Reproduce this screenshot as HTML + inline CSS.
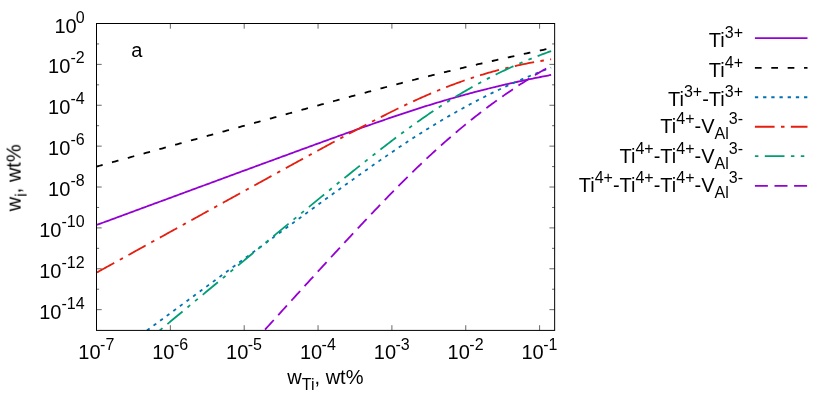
<!DOCTYPE html>
<html><head><meta charset="utf-8"><title>plot</title>
<style>
html,body{margin:0;padding:0;background:#fff;}
body{width:830px;height:413px;overflow:hidden;}
svg{display:block;}
text{-webkit-font-smoothing:antialiased;}
text{font-family:"Liberation Sans",sans-serif;fill:#000;}
</style></head><body>
<svg width="830" height="413" viewBox="0 0 830 413">
<rect x="0" y="0" width="830" height="413" fill="#ffffff"/>
<defs><clipPath id="cp"><rect x="96.50" y="23.50" width="458.15" height="306.90"/></clipPath></defs>

<path d="M96.50,43.94 h2.60 M554.65,43.94 h-2.60 M96.50,64.38 h5.20 M554.65,64.38 h-5.20 M96.50,84.82 h2.60 M554.65,84.82 h-2.60 M96.50,105.26 h5.20 M554.65,105.26 h-5.20 M96.50,125.70 h2.60 M554.65,125.70 h-2.60 M96.50,146.14 h5.20 M554.65,146.14 h-5.20 M96.50,166.58 h2.60 M554.65,166.58 h-2.60 M96.50,187.02 h5.20 M554.65,187.02 h-5.20 M96.50,207.46 h2.60 M554.65,207.46 h-2.60 M96.50,227.90 h5.20 M554.65,227.90 h-5.20 M96.50,248.34 h2.60 M554.65,248.34 h-2.60 M96.50,268.78 h5.20 M554.65,268.78 h-5.20 M96.50,289.22 h2.60 M554.65,289.22 h-2.60 M96.50,309.66 h5.20 M554.65,309.66 h-5.20 M96.50,330.40 v-5.20 M96.50,23.50 v5.20 M170.35,330.40 v-5.20 M170.35,23.50 v5.20 M244.20,330.40 v-5.20 M244.20,23.50 v5.20 M318.05,330.40 v-5.20 M318.05,23.50 v5.20 M391.90,330.40 v-5.20 M391.90,23.50 v5.20 M465.75,330.40 v-5.20 M465.75,23.50 v5.20 M539.60,330.40 v-5.20 M539.60,23.50 v5.20" stroke="#000" stroke-width="0.6" fill="none"/>
<g clip-path="url(#cp)" fill="none" stroke-width="1.8">
<path d="M96.50,225.02 L98.02,224.46 L99.54,223.90 L101.06,223.34 L102.58,222.78 L104.10,222.22 L105.62,221.66 L107.14,221.10 L108.66,220.54 L110.18,219.97 L111.70,219.41 L113.23,218.85 L114.75,218.29 L116.27,217.73 L117.79,217.17 L119.31,216.61 L120.83,216.05 L122.35,215.49 L123.87,214.93 L125.39,214.37 L126.91,213.81 L128.43,213.25 L129.95,212.68 L131.47,212.12 L132.99,211.56 L134.51,211.00 L136.03,210.44 L137.55,209.88 L139.07,209.32 L140.59,208.76 L142.11,208.20 L143.63,207.64 L145.16,207.08 L146.68,206.52 L148.20,205.96 L149.72,205.40 L151.24,204.84 L152.76,204.27 L154.28,203.71 L155.80,203.15 L157.32,202.59 L158.84,202.03 L160.36,201.47 L161.88,200.91 L163.40,200.35 L164.92,199.79 L166.44,199.23 L167.96,198.67 L169.48,198.11 L171.00,197.55 L172.52,196.99 L174.04,196.43 L175.56,195.87 L177.08,195.31 L178.61,194.75 L180.13,194.19 L181.65,193.62 L183.17,193.06 L184.69,192.50 L186.21,191.94 L187.73,191.38 L189.25,190.82 L190.77,190.26 L192.29,189.70 L193.81,189.14 L195.33,188.58 L196.85,188.02 L198.37,187.46 L199.89,186.90 L201.41,186.34 L202.93,185.78 L204.45,185.22 L205.97,184.66 L207.49,184.10 L209.01,183.54 L210.54,182.98 L212.06,182.42 L213.58,181.86 L215.10,181.30 L216.62,180.74 L218.14,180.18 L219.66,179.62 L221.18,179.06 L222.70,178.50 L224.22,177.94 L225.74,177.38 L227.26,176.82 L228.78,176.26 L230.30,175.70 L231.82,175.14 L233.34,174.58 L234.86,174.02 L236.38,173.46 L237.90,172.90 L239.42,172.34 L240.94,171.78 L242.47,171.22 L243.99,170.66 L245.51,170.11 L247.03,169.55 L248.55,168.99 L250.07,168.43 L251.59,167.87 L253.11,167.31 L254.63,166.75 L256.15,166.19 L257.67,165.63 L259.19,165.07 L260.71,164.51 L262.23,163.96 L263.75,163.40 L265.27,162.84 L266.79,162.28 L268.31,161.72 L269.83,161.16 L271.35,160.60 L272.87,160.05 L274.40,159.49 L275.92,158.93 L277.44,158.37 L278.96,157.81 L280.48,157.26 L282.00,156.70 L283.52,156.14 L285.04,155.58 L286.56,155.03 L288.08,154.47 L289.60,153.91 L291.12,153.35 L292.64,152.80 L294.16,152.24 L295.68,151.68 L297.20,151.13 L298.72,150.57 L300.24,150.02 L301.76,149.46 L303.28,148.90 L304.80,148.35 L306.32,147.79 L307.85,147.24 L309.37,146.68 L310.89,146.13 L312.41,145.57 L313.93,145.02 L315.45,144.47 L316.97,143.91 L318.49,143.36 L320.01,142.80 L321.53,142.25 L323.05,141.70 L324.57,141.15 L326.09,140.59 L327.61,140.04 L329.13,139.49 L330.65,138.94 L332.17,138.39 L333.69,137.84 L335.21,137.29 L336.73,136.74 L338.25,136.19 L339.78,135.64 L341.30,135.09 L342.82,134.55 L344.34,134.00 L345.86,133.45 L347.38,132.91 L348.90,132.36 L350.42,131.82 L351.94,131.27 L353.46,130.73 L354.98,130.19 L356.50,129.64 L358.02,129.10 L359.54,128.56 L361.06,128.02 L362.58,127.48 L364.10,126.94 L365.62,126.40 L367.14,125.87 L368.66,125.33 L370.18,124.80 L371.71,124.26 L373.23,123.73 L374.75,123.20 L376.27,122.67 L377.79,122.14 L379.31,121.61 L380.83,121.08 L382.35,120.56 L383.87,120.03 L385.39,119.51 L386.91,118.98 L388.43,118.46 L389.95,117.94 L391.47,117.43 L392.99,116.91 L394.51,116.39 L396.03,115.88 L397.55,115.37 L399.07,114.86 L400.59,114.35 L402.11,113.84 L403.63,113.34 L405.16,112.83 L406.68,112.33 L408.20,111.83 L409.72,111.33 L411.24,110.84 L412.76,110.34 L414.28,109.85 L415.80,109.36 L417.32,108.87 L418.84,108.38 L420.36,107.90 L421.88,107.42 L423.40,106.94 L424.92,106.46 L426.44,105.98 L427.96,105.51 L429.48,105.04 L431.00,104.57 L432.52,104.10 L434.04,103.64 L435.56,103.18 L437.09,102.72 L438.61,102.26 L440.13,101.80 L441.65,101.35 L443.17,100.90 L444.69,100.45 L446.21,100.01 L447.73,99.56 L449.25,99.12 L450.77,98.68 L452.29,98.25 L453.81,97.81 L455.33,97.38 L456.85,96.95 L458.37,96.52 L459.89,96.10 L461.41,95.68 L462.93,95.26 L464.45,94.84 L465.97,94.43 L467.49,94.02 L469.02,93.61 L470.54,93.20 L472.06,92.79 L473.58,92.39 L475.10,91.99 L476.62,91.59 L478.14,91.20 L479.66,90.81 L481.18,90.42 L482.70,90.03 L484.22,89.64 L485.74,89.26 L487.26,88.88 L488.78,88.50 L490.30,88.12 L491.82,87.75 L493.34,87.38 L494.86,87.01 L496.38,86.64 L497.90,86.28 L499.42,85.92 L500.95,85.56 L502.47,85.20 L503.99,84.84 L505.51,84.49 L507.03,84.14 L508.55,83.79 L510.07,83.45 L511.59,83.10 L513.11,82.76 L514.63,82.42 L516.15,82.09 L517.67,81.75 L519.19,81.42 L520.71,81.09 L522.23,80.76 L523.75,80.44 L525.27,80.12 L526.79,79.79 L528.31,79.48 L529.83,79.16 L531.35,78.85 L532.87,78.53 L534.40,78.22 L535.92,77.91 L537.44,77.61 L538.96,77.31 L540.48,77.00 L542.00,76.70 L543.52,76.41 L545.04,76.11 L546.56,75.82 L548.08,75.53 L549.60,75.24 L551.12,74.95" stroke="#9400d3"/>
<path d="M96.50,166.59 L98.02,166.17 L99.54,165.75 L101.06,165.33 L102.58,164.91 L104.10,164.49 L105.62,164.07 L107.14,163.65 L108.66,163.23 L110.18,162.81 L111.70,162.39 L113.23,161.97 L114.75,161.54 L116.27,161.12 L117.79,160.70 L119.31,160.28 L120.83,159.86 L122.35,159.44 L123.87,159.02 L125.39,158.60 L126.91,158.18 L128.43,157.76 L129.95,157.34 L131.47,156.92 L132.99,156.50 L134.51,156.08 L136.03,155.66 L137.55,155.24 L139.07,154.82 L140.59,154.40 L142.11,153.98 L143.63,153.55 L145.16,153.13 L146.68,152.71 L148.20,152.29 L149.72,151.87 L151.24,151.45 L152.76,151.03 L154.28,150.61 L155.80,150.19 L157.32,149.77 L158.84,149.35 L160.36,148.93 L161.88,148.51 L163.40,148.09 L164.92,147.67 L166.44,147.25 L167.96,146.83 L169.48,146.41 L171.00,145.99 L172.52,145.57 L174.04,145.15 L175.56,144.73 L177.08,144.30 L178.61,143.88 L180.13,143.46 L181.65,143.04 L183.17,142.62 L184.69,142.20 L186.21,141.78 L187.73,141.36 L189.25,140.94 L190.77,140.52 L192.29,140.10 L193.81,139.68 L195.33,139.26 L196.85,138.84 L198.37,138.42 L199.89,138.00 L201.41,137.58 L202.93,137.16 L204.45,136.74 L205.97,136.32 L207.49,135.90 L209.01,135.48 L210.54,135.06 L212.06,134.64 L213.58,134.22 L215.10,133.80 L216.62,133.38 L218.14,132.96 L219.66,132.54 L221.18,132.12 L222.70,131.70 L224.22,131.28 L225.74,130.86 L227.26,130.44 L228.78,130.02 L230.30,129.60 L231.82,129.18 L233.34,128.76 L234.86,128.34 L236.38,127.92 L237.90,127.50 L239.42,127.08 L240.94,126.66 L242.47,126.24 L243.99,125.82 L245.51,125.40 L247.03,124.98 L248.55,124.56 L250.07,124.14 L251.59,123.72 L253.11,123.30 L254.63,122.88 L256.15,122.47 L257.67,122.05 L259.19,121.63 L260.71,121.21 L262.23,120.79 L263.75,120.37 L265.27,119.95 L266.79,119.53 L268.31,119.11 L269.83,118.69 L271.35,118.27 L272.87,117.85 L274.40,117.43 L275.92,117.02 L277.44,116.60 L278.96,116.18 L280.48,115.76 L282.00,115.34 L283.52,114.92 L285.04,114.50 L286.56,114.08 L288.08,113.67 L289.60,113.25 L291.12,112.83 L292.64,112.41 L294.16,111.99 L295.68,111.58 L297.20,111.16 L298.72,110.74 L300.24,110.32 L301.76,109.90 L303.28,109.49 L304.80,109.07 L306.32,108.65 L307.85,108.23 L309.37,107.82 L310.89,107.40 L312.41,106.98 L313.93,106.57 L315.45,106.15 L316.97,105.73 L318.49,105.32 L320.01,104.90 L321.53,104.48 L323.05,104.07 L324.57,103.65 L326.09,103.24 L327.61,102.82 L329.13,102.40 L330.65,101.99 L332.17,101.57 L333.69,101.16 L335.21,100.75 L336.73,100.33 L338.25,99.92 L339.78,99.50 L341.30,99.09 L342.82,98.68 L344.34,98.26 L345.86,97.85 L347.38,97.44 L348.90,97.02 L350.42,96.61 L351.94,96.20 L353.46,95.79 L354.98,95.38 L356.50,94.97 L358.02,94.56 L359.54,94.15 L361.06,93.74 L362.58,93.33 L364.10,92.92 L365.62,92.51 L367.14,92.10 L368.66,91.70 L370.18,91.29 L371.71,90.88 L373.23,90.48 L374.75,90.07 L376.27,89.67 L377.79,89.26 L379.31,88.86 L380.83,88.45 L382.35,88.05 L383.87,87.65 L385.39,87.25 L386.91,86.85 L388.43,86.45 L389.95,86.05 L391.47,85.65 L392.99,85.25 L394.51,84.85 L396.03,84.45 L397.55,84.06 L399.07,83.66 L400.59,83.27 L402.11,82.87 L403.63,82.48 L405.16,82.09 L406.68,81.69 L408.20,81.30 L409.72,80.91 L411.24,80.52 L412.76,80.14 L414.28,79.75 L415.80,79.36 L417.32,78.98 L418.84,78.59 L420.36,78.21 L421.88,77.82 L423.40,77.44 L424.92,77.06 L426.44,76.68 L427.96,76.30 L429.48,75.92 L431.00,75.54 L432.52,75.16 L434.04,74.79 L435.56,74.41 L437.09,74.04 L438.61,73.66 L440.13,73.29 L441.65,72.92 L443.17,72.55 L444.69,72.18 L446.21,71.81 L447.73,71.44 L449.25,71.07 L450.77,70.71 L452.29,70.34 L453.81,69.97 L455.33,69.61 L456.85,69.25 L458.37,68.88 L459.89,68.52 L461.41,68.16 L462.93,67.80 L464.45,67.44 L465.97,67.08 L467.49,66.72 L469.02,66.37 L470.54,66.01 L472.06,65.65 L473.58,65.30 L475.10,64.94 L476.62,64.59 L478.14,64.24 L479.66,63.89 L481.18,63.53 L482.70,63.18 L484.22,62.83 L485.74,62.48 L487.26,62.14 L488.78,61.79 L490.30,61.44 L491.82,61.09 L493.34,60.75 L494.86,60.40 L496.38,60.06 L497.90,59.72 L499.42,59.37 L500.95,59.03 L502.47,58.69 L503.99,58.35 L505.51,58.01 L507.03,57.67 L508.55,57.33 L510.07,57.00 L511.59,56.66 L513.11,56.32 L514.63,55.99 L516.15,55.65 L517.67,55.32 L519.19,54.99 L520.71,54.65 L522.23,54.32 L523.75,53.99 L525.27,53.66 L526.79,53.33 L528.31,53.00 L529.83,52.68 L531.35,52.35 L532.87,52.02 L534.40,51.70 L535.92,51.37 L537.44,51.05 L538.96,50.73 L540.48,50.40 L542.00,50.08 L543.52,49.76 L545.04,49.44 L546.56,49.12 L548.08,48.80 L549.60,48.48 L551.12,48.16" stroke="#000000" stroke-dasharray="6.7 9.68" stroke-dashoffset="0.3"/>
<path d="M96.50,367.69 L98.02,366.57 L99.54,365.45 L101.06,364.33 L102.58,363.21 L104.10,362.09 L105.62,360.96 L107.14,359.84 L108.66,358.72 L110.18,357.60 L111.70,356.48 L113.23,355.36 L114.75,354.23 L116.27,353.11 L117.79,351.99 L119.31,350.87 L120.83,349.75 L122.35,348.63 L123.87,347.50 L125.39,346.38 L126.91,345.26 L128.43,344.14 L129.95,343.02 L131.47,341.90 L132.99,340.78 L134.51,339.65 L136.03,338.53 L137.55,337.41 L139.07,336.29 L140.59,335.17 L142.11,334.05 L143.63,332.93 L145.16,331.80 L146.68,330.68 L148.20,329.56 L149.72,328.44 L151.24,327.32 L152.76,326.20 L154.28,325.08 L155.80,323.96 L157.32,322.83 L158.84,321.71 L160.36,320.59 L161.88,319.47 L163.40,318.35 L164.92,317.23 L166.44,316.11 L167.96,314.99 L169.48,313.87 L171.00,312.74 L172.52,311.62 L174.04,310.50 L175.56,309.38 L177.08,308.26 L178.61,307.14 L180.13,306.02 L181.65,304.90 L183.17,303.78 L184.69,302.66 L186.21,301.54 L187.73,300.42 L189.25,299.29 L190.77,298.17 L192.29,297.05 L193.81,295.93 L195.33,294.81 L196.85,293.69 L198.37,292.57 L199.89,291.45 L201.41,290.33 L202.93,289.21 L204.45,288.09 L205.97,286.97 L207.49,285.85 L209.01,284.73 L210.54,283.61 L212.06,282.49 L213.58,281.37 L215.10,280.25 L216.62,279.13 L218.14,278.01 L219.66,276.89 L221.18,275.77 L222.70,274.65 L224.22,273.53 L225.74,272.41 L227.26,271.29 L228.78,270.17 L230.30,269.05 L231.82,267.93 L233.34,266.81 L234.86,265.69 L236.38,264.57 L237.90,263.45 L239.42,262.34 L240.94,261.22 L242.47,260.10 L243.99,258.98 L245.51,257.86 L247.03,256.74 L248.55,255.62 L250.07,254.50 L251.59,253.39 L253.11,252.27 L254.63,251.15 L256.15,250.03 L257.67,248.91 L259.19,247.80 L260.71,246.68 L262.23,245.56 L263.75,244.44 L265.27,243.33 L266.79,242.21 L268.31,241.09 L269.83,239.97 L271.35,238.86 L272.87,237.74 L274.40,236.63 L275.92,235.51 L277.44,234.39 L278.96,233.28 L280.48,232.16 L282.00,231.05 L283.52,229.93 L285.04,228.82 L286.56,227.70 L288.08,226.59 L289.60,225.47 L291.12,224.36 L292.64,223.24 L294.16,222.13 L295.68,221.02 L297.20,219.91 L298.72,218.79 L300.24,217.68 L301.76,216.57 L303.28,215.46 L304.80,214.35 L306.32,213.23 L307.85,212.12 L309.37,211.01 L310.89,209.90 L312.41,208.80 L313.93,207.69 L315.45,206.58 L316.97,205.47 L318.49,204.36 L320.01,203.26 L321.53,202.15 L323.05,201.05 L324.57,199.94 L326.09,198.84 L327.61,197.73 L329.13,196.63 L330.65,195.53 L332.17,194.43 L333.69,193.33 L335.21,192.23 L336.73,191.13 L338.25,190.03 L339.78,188.93 L341.30,187.84 L342.82,186.74 L344.34,185.65 L345.86,184.55 L347.38,183.46 L348.90,182.37 L350.42,181.28 L351.94,180.19 L353.46,179.11 L354.98,178.02 L356.50,176.93 L358.02,175.85 L359.54,174.77 L361.06,173.69 L362.58,172.61 L364.10,171.53 L365.62,170.46 L367.14,169.39 L368.66,168.31 L370.18,167.24 L371.71,166.18 L373.23,165.11 L374.75,164.05 L376.27,162.98 L377.79,161.93 L379.31,160.87 L380.83,159.81 L382.35,158.76 L383.87,157.71 L385.39,156.66 L386.91,155.62 L388.43,154.58 L389.95,153.54 L391.47,152.50 L392.99,151.47 L394.51,150.44 L396.03,149.41 L397.55,148.38 L399.07,147.36 L400.59,146.35 L402.11,145.33 L403.63,144.32 L405.16,143.31 L406.68,142.31 L408.20,141.31 L409.72,140.31 L411.24,139.32 L412.76,138.33 L414.28,137.35 L415.80,136.37 L417.32,135.39 L418.84,134.42 L420.36,133.45 L421.88,132.48 L423.40,131.52 L424.92,130.57 L426.44,129.61 L427.96,128.67 L429.48,127.72 L431.00,126.79 L432.52,125.85 L434.04,124.92 L435.56,124.00 L437.09,123.08 L438.61,122.16 L440.13,121.25 L441.65,120.35 L443.17,119.45 L444.69,118.55 L446.21,117.66 L447.73,116.77 L449.25,115.89 L450.77,115.01 L452.29,114.14 L453.81,113.27 L455.33,112.41 L456.85,111.55 L458.37,110.70 L459.89,109.85 L461.41,109.01 L462.93,108.17 L464.45,107.33 L465.97,106.51 L467.49,105.68 L469.02,104.86 L470.54,104.05 L472.06,103.24 L473.58,102.43 L475.10,101.63 L476.62,100.84 L478.14,100.05 L479.66,99.26 L481.18,98.48 L482.70,97.70 L484.22,96.93 L485.74,96.17 L487.26,95.40 L488.78,94.65 L490.30,93.90 L491.82,93.15 L493.34,92.40 L494.86,91.67 L496.38,90.93 L497.90,90.20 L499.42,89.48 L500.95,88.76 L502.47,88.05 L503.99,87.34 L505.51,86.63 L507.03,85.93 L508.55,85.24 L510.07,84.54 L511.59,83.86 L513.11,83.18 L514.63,82.50 L516.15,81.82 L517.67,81.16 L519.19,80.49 L520.71,79.83 L522.23,79.18 L523.75,78.53 L525.27,77.88 L526.79,77.24 L528.31,76.60 L529.83,75.97 L531.35,75.34 L532.87,74.71 L534.40,74.09 L535.92,73.48 L537.44,72.87 L538.96,72.26 L540.48,71.66 L542.00,71.06 L543.52,70.46 L545.04,69.87 L546.56,69.28 L548.08,68.70 L549.60,68.12 L551.12,67.55" stroke="#0072b2" stroke-dasharray="3.3 4.89" stroke-dashoffset="2.8"/>
<path d="M96.50,272.69 L98.02,271.85 L99.54,271.01 L101.06,270.16 L102.58,269.32 L104.10,268.48 L105.62,267.64 L107.14,266.80 L108.66,265.96 L110.18,265.12 L111.70,264.28 L113.23,263.43 L114.75,262.59 L116.27,261.75 L117.79,260.91 L119.31,260.07 L120.83,259.23 L122.35,258.39 L123.87,257.55 L125.39,256.71 L126.91,255.86 L128.43,255.02 L129.95,254.18 L131.47,253.34 L132.99,252.50 L134.51,251.66 L136.03,250.82 L137.55,249.98 L139.07,249.14 L140.59,248.29 L142.11,247.45 L143.63,246.61 L145.16,245.77 L146.68,244.93 L148.20,244.09 L149.72,243.25 L151.24,242.41 L152.76,241.57 L154.28,240.73 L155.80,239.89 L157.32,239.04 L158.84,238.20 L160.36,237.36 L161.88,236.52 L163.40,235.68 L164.92,234.84 L166.44,234.00 L167.96,233.16 L169.48,232.32 L171.00,231.48 L172.52,230.64 L174.04,229.80 L175.56,228.96 L177.08,228.11 L178.61,227.27 L180.13,226.43 L181.65,225.59 L183.17,224.75 L184.69,223.91 L186.21,223.07 L187.73,222.23 L189.25,221.39 L190.77,220.55 L192.29,219.71 L193.81,218.87 L195.33,218.03 L196.85,217.19 L198.37,216.35 L199.89,215.51 L201.41,214.67 L202.93,213.83 L204.45,212.99 L205.97,212.15 L207.49,211.31 L209.01,210.47 L210.54,209.63 L212.06,208.79 L213.58,207.95 L215.10,207.11 L216.62,206.27 L218.14,205.43 L219.66,204.59 L221.18,203.75 L222.70,202.91 L224.22,202.07 L225.74,201.23 L227.26,200.39 L228.78,199.55 L230.30,198.71 L231.82,197.87 L233.34,197.03 L234.86,196.19 L236.38,195.35 L237.90,194.51 L239.42,193.67 L240.94,192.84 L242.47,192.00 L243.99,191.16 L245.51,190.32 L247.03,189.48 L248.55,188.64 L250.07,187.80 L251.59,186.96 L253.11,186.13 L254.63,185.29 L256.15,184.45 L257.67,183.61 L259.19,182.77 L260.71,181.94 L262.23,181.10 L263.75,180.26 L265.27,179.42 L266.79,178.59 L268.31,177.75 L269.83,176.91 L271.35,176.07 L272.87,175.24 L274.40,174.40 L275.92,173.57 L277.44,172.73 L278.96,171.89 L280.48,171.06 L282.00,170.22 L283.52,169.39 L285.04,168.55 L286.56,167.72 L288.08,166.88 L289.60,166.05 L291.12,165.21 L292.64,164.38 L294.16,163.54 L295.68,162.71 L297.20,161.88 L298.72,161.04 L300.24,160.21 L301.76,159.38 L303.28,158.55 L304.80,157.71 L306.32,156.88 L307.85,156.05 L309.37,155.22 L310.89,154.39 L312.41,153.56 L313.93,152.73 L315.45,151.90 L316.97,151.08 L318.49,150.25 L320.01,149.42 L321.53,148.59 L323.05,147.77 L324.57,146.94 L326.09,146.12 L327.61,145.29 L329.13,144.47 L330.65,143.65 L332.17,142.82 L333.69,142.00 L335.21,141.18 L336.73,140.36 L338.25,139.54 L339.78,138.73 L341.30,137.91 L342.82,137.09 L344.34,136.28 L345.86,135.46 L347.38,134.65 L348.90,133.84 L350.42,133.03 L351.94,132.22 L353.46,131.41 L354.98,130.60 L356.50,129.80 L358.02,128.99 L359.54,128.19 L361.06,127.39 L362.58,126.59 L364.10,125.79 L365.62,125.00 L367.14,124.20 L368.66,123.41 L370.18,122.62 L371.71,121.83 L373.23,121.05 L374.75,120.26 L376.27,119.48 L377.79,118.70 L379.31,117.92 L380.83,117.15 L382.35,116.37 L383.87,115.60 L385.39,114.83 L386.91,114.07 L388.43,113.31 L389.95,112.55 L391.47,111.79 L392.99,111.04 L394.51,110.29 L396.03,109.54 L397.55,108.80 L399.07,108.06 L400.59,107.32 L402.11,106.59 L403.63,105.86 L405.16,105.13 L406.68,104.41 L408.20,103.69 L409.72,102.98 L411.24,102.27 L412.76,101.56 L414.28,100.86 L415.80,100.16 L417.32,99.47 L418.84,98.78 L420.36,98.09 L421.88,97.41 L423.40,96.74 L424.92,96.07 L426.44,95.40 L427.96,94.74 L429.48,94.08 L431.00,93.43 L432.52,92.78 L434.04,92.14 L435.56,91.51 L437.09,90.88 L438.61,90.25 L440.13,89.63 L441.65,89.02 L443.17,88.41 L444.69,87.80 L446.21,87.20 L447.73,86.61 L449.25,86.02 L450.77,85.44 L452.29,84.86 L453.81,84.29 L455.33,83.73 L456.85,83.17 L458.37,82.61 L459.89,82.06 L461.41,81.52 L462.93,80.98 L464.45,80.45 L465.97,79.93 L467.49,79.41 L469.02,78.89 L470.54,78.38 L472.06,77.88 L473.58,77.38 L475.10,76.89 L476.62,76.41 L478.14,75.93 L479.66,75.45 L481.18,74.98 L482.70,74.52 L484.22,74.06 L485.74,73.61 L487.26,73.17 L488.78,72.73 L490.30,72.29 L491.82,71.86 L493.34,71.44 L494.86,71.02 L496.38,70.61 L497.90,70.21 L499.42,69.81 L500.95,69.41 L502.47,69.02 L503.99,68.64 L505.51,68.26 L507.03,67.89 L508.55,67.52 L510.07,67.16 L511.59,66.80 L513.11,66.45 L514.63,66.10 L516.15,65.76 L517.67,65.43 L519.19,65.10 L520.71,64.77 L522.23,64.45 L523.75,64.14 L525.27,63.83 L526.79,63.53 L528.31,63.23 L529.83,62.93 L531.35,62.64 L532.87,62.36 L534.40,62.08 L535.92,61.81 L537.44,61.54 L538.96,61.27 L540.48,61.01 L542.00,60.76 L543.52,60.51 L545.04,60.26 L546.56,60.02 L548.08,59.78 L549.60,59.55 L551.12,59.32" stroke="#e51e10" stroke-dasharray="19.7 6.4 3.5 6.35" stroke-dashoffset="35.4"/>
<path d="M96.50,382.87 L98.02,381.61 L99.54,380.35 L101.06,379.09 L102.58,377.83 L104.10,376.56 L105.62,375.30 L107.14,374.04 L108.66,372.78 L110.18,371.52 L111.70,370.25 L113.23,368.99 L114.75,367.73 L116.27,366.47 L117.79,365.21 L119.31,363.95 L120.83,362.68 L122.35,361.42 L123.87,360.16 L125.39,358.90 L126.91,357.64 L128.43,356.38 L129.95,355.11 L131.47,353.85 L132.99,352.59 L134.51,351.33 L136.03,350.07 L137.55,348.81 L139.07,347.54 L140.59,346.28 L142.11,345.02 L143.63,343.76 L145.16,342.50 L146.68,341.24 L148.20,339.98 L149.72,338.71 L151.24,337.45 L152.76,336.19 L154.28,334.93 L155.80,333.67 L157.32,332.41 L158.84,331.15 L160.36,329.88 L161.88,328.62 L163.40,327.36 L164.92,326.10 L166.44,324.84 L167.96,323.58 L169.48,322.32 L171.00,321.06 L172.52,319.80 L174.04,318.53 L175.56,317.27 L177.08,316.01 L178.61,314.75 L180.13,313.49 L181.65,312.23 L183.17,310.97 L184.69,309.71 L186.21,308.45 L187.73,307.19 L189.25,305.93 L190.77,304.66 L192.29,303.40 L193.81,302.14 L195.33,300.88 L196.85,299.62 L198.37,298.36 L199.89,297.10 L201.41,295.84 L202.93,294.58 L204.45,293.32 L205.97,292.06 L207.49,290.80 L209.01,289.54 L210.54,288.28 L212.06,287.02 L213.58,285.76 L215.10,284.50 L216.62,283.24 L218.14,281.98 L219.66,280.72 L221.18,279.46 L222.70,278.20 L224.22,276.94 L225.74,275.68 L227.26,274.42 L228.78,273.16 L230.30,271.90 L231.82,270.64 L233.34,269.38 L234.86,268.12 L236.38,266.87 L237.90,265.61 L239.42,264.35 L240.94,263.09 L242.47,261.83 L243.99,260.57 L245.51,259.31 L247.03,258.06 L248.55,256.80 L250.07,255.54 L251.59,254.28 L253.11,253.02 L254.63,251.77 L256.15,250.51 L257.67,249.25 L259.19,247.99 L260.71,246.74 L262.23,245.48 L263.75,244.22 L265.27,242.97 L266.79,241.71 L268.31,240.45 L269.83,239.20 L271.35,237.94 L272.87,236.68 L274.40,235.43 L275.92,234.17 L277.44,232.92 L278.96,231.66 L280.48,230.41 L282.00,229.15 L283.52,227.90 L285.04,226.65 L286.56,225.39 L288.08,224.14 L289.60,222.89 L291.12,221.63 L292.64,220.38 L294.16,219.13 L295.68,217.88 L297.20,216.63 L298.72,215.38 L300.24,214.12 L301.76,212.87 L303.28,211.62 L304.80,210.38 L306.32,209.13 L307.85,207.88 L309.37,206.63 L310.89,205.38 L312.41,204.14 L313.93,202.89 L315.45,201.65 L316.97,200.40 L318.49,199.16 L320.01,197.91 L321.53,196.67 L323.05,195.43 L324.57,194.19 L326.09,192.95 L327.61,191.71 L329.13,190.47 L330.65,189.23 L332.17,187.99 L333.69,186.76 L335.21,185.52 L336.73,184.29 L338.25,183.05 L339.78,181.82 L341.30,180.59 L342.82,179.36 L344.34,178.13 L345.86,176.91 L347.38,175.68 L348.90,174.46 L350.42,173.23 L351.94,172.01 L353.46,170.79 L354.98,169.58 L356.50,168.36 L358.02,167.15 L359.54,165.93 L361.06,164.72 L362.58,163.51 L364.10,162.31 L365.62,161.10 L367.14,159.90 L368.66,158.70 L370.18,157.50 L371.71,156.31 L373.23,155.11 L374.75,153.92 L376.27,152.74 L377.79,151.55 L379.31,150.37 L380.83,149.19 L382.35,148.02 L383.87,146.84 L385.39,145.67 L386.91,144.51 L388.43,143.35 L389.95,142.19 L391.47,141.03 L392.99,139.88 L394.51,138.73 L396.03,137.59 L397.55,136.45 L399.07,135.31 L400.59,134.18 L402.11,133.05 L403.63,131.93 L405.16,130.81 L406.68,129.70 L408.20,128.59 L409.72,127.48 L411.24,126.38 L412.76,125.29 L414.28,124.20 L415.80,123.11 L417.32,122.03 L418.84,120.96 L420.36,119.89 L421.88,118.83 L423.40,117.77 L424.92,116.72 L426.44,115.67 L427.96,114.63 L429.48,113.59 L431.00,112.56 L432.52,111.54 L434.04,110.52 L435.56,109.51 L437.09,108.51 L438.61,107.51 L440.13,106.52 L441.65,105.53 L443.17,104.55 L444.69,103.57 L446.21,102.61 L447.73,101.64 L449.25,100.69 L450.77,99.74 L452.29,98.80 L453.81,97.86 L455.33,96.93 L456.85,96.01 L458.37,95.09 L459.89,94.18 L461.41,93.27 L462.93,92.38 L464.45,91.49 L465.97,90.60 L467.49,89.72 L469.02,88.85 L470.54,87.99 L472.06,87.13 L473.58,86.28 L475.10,85.43 L476.62,84.59 L478.14,83.76 L479.66,82.93 L481.18,82.11 L482.70,81.30 L484.22,80.49 L485.74,79.69 L487.26,78.90 L488.78,78.11 L490.30,77.33 L491.82,76.55 L493.34,75.78 L494.86,75.02 L496.38,74.27 L497.90,73.52 L499.42,72.77 L500.95,72.04 L502.47,71.31 L503.99,70.58 L505.51,69.86 L507.03,69.15 L508.55,68.45 L510.07,67.75 L511.59,67.05 L513.11,66.37 L514.63,65.68 L516.15,65.01 L517.67,64.34 L519.19,63.68 L520.71,63.02 L522.23,62.37 L523.75,61.72 L525.27,61.08 L526.79,60.45 L528.31,59.82 L529.83,59.20 L531.35,58.59 L532.87,57.98 L534.40,57.37 L535.92,56.77 L537.44,56.18 L538.96,55.59 L540.48,55.01 L542.00,54.43 L543.52,53.86 L545.04,53.29 L546.56,52.73 L548.08,52.18 L549.60,51.63 L551.12,51.08" stroke="#009e73" stroke-dasharray="19.7 6.4 3.5 6.4 3.5 6.4" stroke-dashoffset="45.6"/>
<path d="M96.50,515.91 L98.02,514.23 L99.54,512.54 L101.06,510.86 L102.58,509.18 L104.10,507.50 L105.62,505.81 L107.14,504.13 L108.66,502.45 L110.18,500.77 L111.70,499.08 L113.23,497.40 L114.75,495.72 L116.27,494.04 L117.79,492.35 L119.31,490.67 L120.83,488.99 L122.35,487.31 L123.87,485.62 L125.39,483.94 L126.91,482.26 L128.43,480.58 L129.95,478.90 L131.47,477.21 L132.99,475.53 L134.51,473.85 L136.03,472.17 L137.55,470.49 L139.07,468.80 L140.59,467.12 L142.11,465.44 L143.63,463.76 L145.16,462.08 L146.68,460.39 L148.20,458.71 L149.72,457.03 L151.24,455.35 L152.76,453.67 L154.28,451.98 L155.80,450.30 L157.32,448.62 L158.84,446.94 L160.36,445.26 L161.88,443.57 L163.40,441.89 L164.92,440.21 L166.44,438.53 L167.96,436.85 L169.48,435.17 L171.00,433.49 L172.52,431.80 L174.04,430.12 L175.56,428.44 L177.08,426.76 L178.61,425.08 L180.13,423.40 L181.65,421.72 L183.17,420.03 L184.69,418.35 L186.21,416.67 L187.73,414.99 L189.25,413.31 L190.77,411.63 L192.29,409.95 L193.81,408.27 L195.33,406.59 L196.85,404.91 L198.37,403.23 L199.89,401.54 L201.41,399.86 L202.93,398.18 L204.45,396.50 L205.97,394.82 L207.49,393.14 L209.01,391.46 L210.54,389.78 L212.06,388.10 L213.58,386.42 L215.10,384.74 L216.62,383.06 L218.14,381.38 L219.66,379.70 L221.18,378.02 L222.70,376.34 L224.22,374.66 L225.74,372.98 L227.26,371.30 L228.78,369.62 L230.30,367.94 L231.82,366.27 L233.34,364.59 L234.86,362.91 L236.38,361.23 L237.90,359.55 L239.42,357.87 L240.94,356.19 L242.47,354.51 L243.99,352.84 L245.51,351.16 L247.03,349.48 L248.55,347.80 L250.07,346.12 L251.59,344.45 L253.11,342.77 L254.63,341.09 L256.15,339.42 L257.67,337.74 L259.19,336.06 L260.71,334.39 L262.23,332.71 L263.75,331.03 L265.27,329.36 L266.79,327.68 L268.31,326.01 L269.83,324.33 L271.35,322.66 L272.87,320.98 L274.40,319.31 L275.92,317.63 L277.44,315.96 L278.96,314.28 L280.48,312.61 L282.00,310.94 L283.52,309.26 L285.04,307.59 L286.56,305.92 L288.08,304.25 L289.60,302.58 L291.12,300.91 L292.64,299.23 L294.16,297.56 L295.68,295.89 L297.20,294.23 L298.72,292.56 L300.24,290.89 L301.76,289.22 L303.28,287.55 L304.80,285.89 L306.32,284.22 L307.85,282.55 L309.37,280.89 L310.89,279.23 L312.41,277.56 L313.93,275.90 L315.45,274.24 L316.97,272.58 L318.49,270.91 L320.01,269.25 L321.53,267.60 L323.05,265.94 L324.57,264.28 L326.09,262.62 L327.61,260.97 L329.13,259.31 L330.65,257.66 L332.17,256.01 L333.69,254.36 L335.21,252.71 L336.73,251.06 L338.25,249.41 L339.78,247.77 L341.30,246.12 L342.82,244.48 L344.34,242.84 L345.86,241.20 L347.38,239.56 L348.90,237.92 L350.42,236.29 L351.94,234.66 L353.46,233.03 L354.98,231.40 L356.50,229.77 L358.02,228.15 L359.54,226.52 L361.06,224.90 L362.58,223.28 L364.10,221.67 L365.62,220.06 L367.14,218.45 L368.66,216.84 L370.18,215.23 L371.71,213.63 L373.23,212.03 L374.75,210.44 L376.27,208.84 L377.79,207.26 L379.31,205.67 L380.83,204.09 L382.35,202.51 L383.87,200.93 L385.39,199.36 L386.91,197.80 L388.43,196.23 L389.95,194.67 L391.47,193.12 L392.99,191.57 L394.51,190.02 L396.03,188.48 L397.55,186.95 L399.07,185.41 L400.59,183.89 L402.11,182.37 L403.63,180.85 L405.16,179.34 L406.68,177.83 L408.20,176.33 L409.72,174.84 L411.24,173.35 L412.76,171.86 L414.28,170.39 L415.80,168.92 L417.32,167.45 L418.84,165.99 L420.36,164.54 L421.88,163.09 L423.40,161.65 L424.92,160.22 L426.44,158.79 L427.96,157.37 L429.48,155.96 L431.00,154.55 L432.52,153.15 L434.04,151.75 L435.56,150.37 L437.09,148.99 L438.61,147.61 L440.13,146.25 L441.65,144.89 L443.17,143.54 L444.69,142.19 L446.21,140.86 L447.73,139.53 L449.25,138.20 L450.77,136.89 L452.29,135.58 L453.81,134.28 L455.33,132.98 L456.85,131.70 L458.37,130.42 L459.89,129.14 L461.41,127.88 L462.93,126.62 L464.45,125.37 L465.97,124.13 L467.49,122.89 L469.02,121.66 L470.54,120.44 L472.06,119.22 L473.58,118.02 L475.10,116.82 L476.62,115.62 L478.14,114.44 L479.66,113.26 L481.18,112.09 L482.70,110.92 L484.22,109.77 L485.74,108.62 L487.26,107.47 L488.78,106.34 L490.30,105.21 L491.82,104.09 L493.34,102.98 L494.86,101.87 L496.38,100.77 L497.90,99.67 L499.42,98.59 L500.95,97.51 L502.47,96.44 L503.99,95.37 L505.51,94.32 L507.03,93.26 L508.55,92.22 L510.07,91.18 L511.59,90.15 L513.11,89.13 L514.63,88.11 L516.15,87.10 L517.67,86.10 L519.19,85.11 L520.71,84.12 L522.23,83.13 L523.75,82.16 L525.27,81.19 L526.79,80.23 L528.31,79.27 L529.83,78.32 L531.35,77.38 L532.87,76.44 L534.40,75.51 L535.92,74.59 L537.44,73.67 L538.96,72.76 L540.48,71.85 L542.00,70.95 L543.52,70.06 L545.04,69.17 L546.56,68.29 L548.08,67.42 L549.60,66.55 L551.12,65.69" stroke="#9400d3" stroke-dasharray="13.0 6.6" stroke-dashoffset="3.6"/>
</g>
<rect x="96.50" y="23.50" width="458.15" height="306.90" fill="none" stroke="#000" stroke-width="1"/>
<g opacity="0.999">
<text x="54.46" y="32.50" font-size="20" text-anchor="start">10</text>
<text x="75.75" y="22.50" font-size="16" text-anchor="start">0</text>
<text x="48.04" y="73.38" font-size="20" text-anchor="start">10</text>
<text x="70.43" y="63.38" font-size="16" text-anchor="start">-2</text>
<text x="48.04" y="114.26" font-size="20" text-anchor="start">10</text>
<text x="70.43" y="104.26" font-size="16" text-anchor="start">-4</text>
<text x="48.04" y="155.14" font-size="20" text-anchor="start">10</text>
<text x="70.43" y="145.14" font-size="16" text-anchor="start">-6</text>
<text x="48.04" y="196.02" font-size="20" text-anchor="start">10</text>
<text x="70.43" y="186.02" font-size="16" text-anchor="start">-8</text>
<text x="39.14" y="236.90" font-size="20" text-anchor="start">10</text>
<text x="61.53" y="226.90" font-size="16" text-anchor="start">-10</text>
<text x="39.14" y="277.78" font-size="20" text-anchor="start">10</text>
<text x="61.53" y="267.78" font-size="16" text-anchor="start">-12</text>
<text x="39.14" y="318.66" font-size="20" text-anchor="start">10</text>
<text x="61.53" y="308.66" font-size="16" text-anchor="start">-14</text>
<text x="78.37" y="358.70" font-size="20" text-anchor="start">10</text>
<text x="100.07" y="349.50" font-size="16" text-anchor="start">-7</text>
<text x="152.22" y="358.70" font-size="20" text-anchor="start">10</text>
<text x="173.92" y="349.50" font-size="16" text-anchor="start">-6</text>
<text x="226.07" y="358.70" font-size="20" text-anchor="start">10</text>
<text x="247.77" y="349.50" font-size="16" text-anchor="start">-5</text>
<text x="299.92" y="358.70" font-size="20" text-anchor="start">10</text>
<text x="321.62" y="349.50" font-size="16" text-anchor="start">-4</text>
<text x="373.77" y="358.70" font-size="20" text-anchor="start">10</text>
<text x="395.47" y="349.50" font-size="16" text-anchor="start">-3</text>
<text x="447.62" y="358.70" font-size="20" text-anchor="start">10</text>
<text x="469.32" y="349.50" font-size="16" text-anchor="start">-2</text>
<text x="521.47" y="358.70" font-size="20" text-anchor="start">10</text>
<text x="543.17" y="349.50" font-size="16" text-anchor="start">-1</text>
<text x="131.2" y="57.2" font-size="20">a</text>
<text x="325.4" y="384" text-anchor="middle" font-size="20">w<tspan font-size="16" dy="6">Ti</tspan><tspan dy="-6">, wt%</tspan></text>
<text transform="translate(20.6,177.8) rotate(-90)" text-anchor="middle" font-size="20">w<tspan font-size="16" dy="6">i</tspan><tspan dy="-6">, wt%</tspan></text>
<text x="743" y="47.15" text-anchor="end"><tspan font-size="20" dy="0">Ti</tspan><tspan font-size="16" dy="-9">3+</tspan></text>
<path d="M754.9,38.10 H807.5" stroke="#9400d3" stroke-width="1.8" fill="none"/>
<text x="743" y="76.90" text-anchor="end"><tspan font-size="20" dy="0">Ti</tspan><tspan font-size="16" dy="-9">4+</tspan></text>
<path d="M754.9,67.85 H807.5" stroke="#000000" stroke-width="1.8" fill="none" stroke-dasharray="6.7 9.68" stroke-dashoffset="0"/>
<text x="743" y="106.32" text-anchor="end"><tspan font-size="20" dy="0">Ti</tspan><tspan font-size="16" dy="-9">3+</tspan><tspan font-size="20" dy="9">-Ti</tspan><tspan font-size="16" dy="-9">3+</tspan></text>
<path d="M754.9,97.27 H807.5" stroke="#0072b2" stroke-width="1.8" fill="none" stroke-dasharray="3.3 4.89" stroke-dashoffset="0"/>
<text x="743" y="133.29" text-anchor="end"><tspan font-size="20" dy="0">Ti</tspan><tspan font-size="16" dy="-9">4+</tspan><tspan font-size="20" dy="9">-V</tspan><tspan font-size="16" dy="6">Al</tspan><tspan font-size="16" dy="-15">3-</tspan></text>
<path d="M754.9,126.74 H807.5" stroke="#e51e10" stroke-width="1.8" fill="none" stroke-dasharray="19.7 6.4 3.5 6.35" stroke-dashoffset="0"/>
<text x="743" y="162.65" text-anchor="end"><tspan font-size="20" dy="0">Ti</tspan><tspan font-size="16" dy="-9">4+</tspan><tspan font-size="20" dy="9">-Ti</tspan><tspan font-size="16" dy="-9">4+</tspan><tspan font-size="20" dy="9">-V</tspan><tspan font-size="16" dy="6">Al</tspan><tspan font-size="16" dy="-15">3-</tspan></text>
<path d="M754.9,156.10 H807.5" stroke="#009e73" stroke-width="1.8" fill="none" stroke-dasharray="19.7 6.4 3.5 6.4 3.5 6.4" stroke-dashoffset="36.0"/>
<text x="743" y="192.45" text-anchor="end"><tspan font-size="20" dy="0">Ti</tspan><tspan font-size="16" dy="-9">4+</tspan><tspan font-size="20" dy="9">-Ti</tspan><tspan font-size="16" dy="-9">4+</tspan><tspan font-size="20" dy="9">-Ti</tspan><tspan font-size="16" dy="-9">4+</tspan><tspan font-size="20" dy="9">-V</tspan><tspan font-size="16" dy="6">Al</tspan><tspan font-size="16" dy="-15">3-</tspan></text>
<path d="M754.9,185.90 H807.5" stroke="#9400d3" stroke-width="1.8" fill="none" stroke-dasharray="13.0 6.6" stroke-dashoffset="0"/>
</g>
</svg></body></html>
